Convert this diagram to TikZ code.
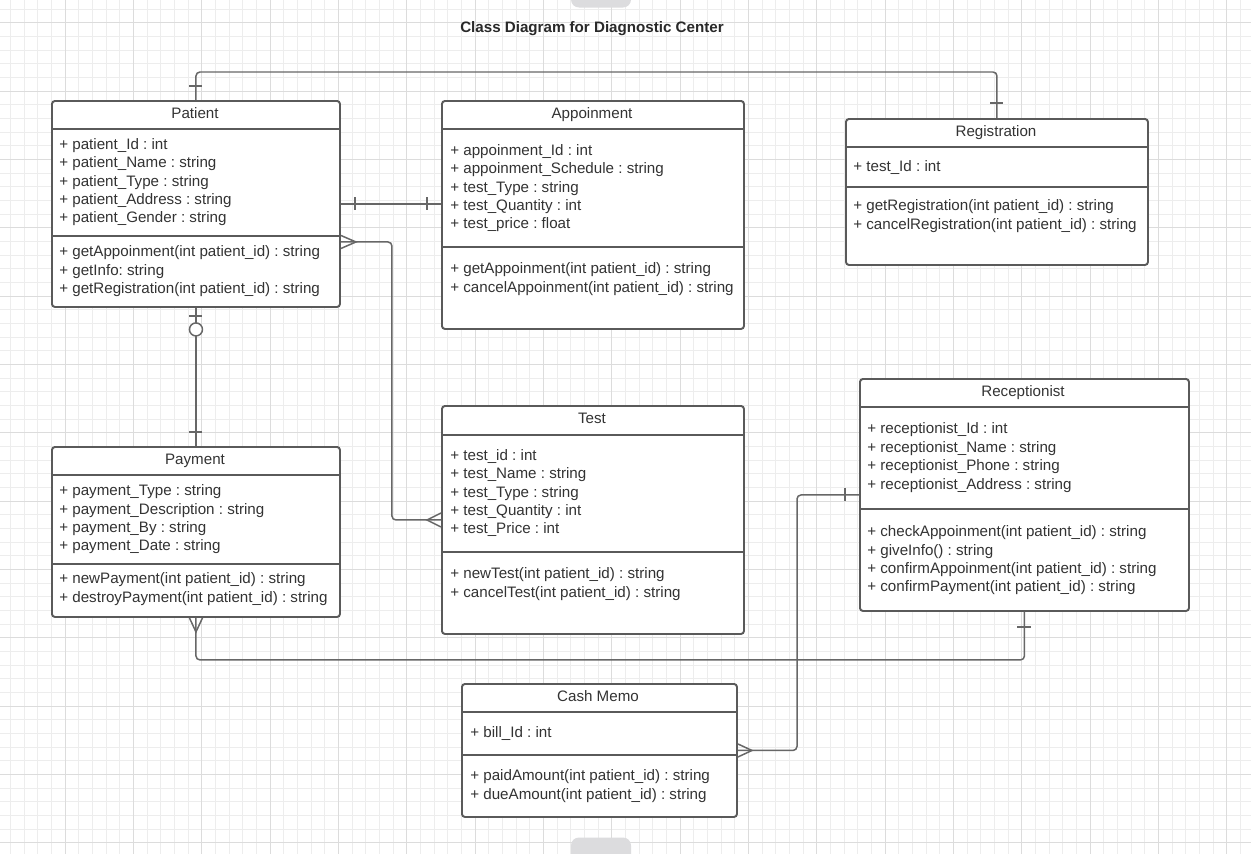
\documentclass[tikz,border=0pt]{standalone}
\usepackage{fontspec}
\setmainfont{Liberation Sans}
\frenchspacing
\usetikzlibrary{calc}

\definecolor{gridminor}{HTML}{EDEDED}
\definecolor{gridmajor}{HTML}{DCDCDC}
\definecolor{boxgray}{HTML}{5A5A5A}
\definecolor{linegray}{HTML}{676767}
\definecolor{textgray}{HTML}{333333}
\definecolor{handlegray}{HTML}{DCDCDE}

\tikzset{
  classbox/.style={draw=boxgray, line width=1.1pt, rounded corners=0.6mm, anchor=north west, inner sep=0pt, fill=white},
  divider/.style={draw=boxgray, line width=1.1pt},
  member/.style={anchor=west, inner sep=0pt, text=textgray, font=\fontsize{8.62}{10}\selectfont, text height=0.84em, text depth=0.2em},
  classname/.style={member, anchor=center},
  conn/.style={draw=linegray, line width=0.85pt, rounded corners=0.8mm},
  crowfoot/.style={draw=linegray, line width=0.85pt, line join=miter}
}

\begin{document}
\begin{tikzpicture}[x=0.2mm,y=-0.2mm]
\useasboundingbox (0,0) rectangle (1251,854);
\fill[white] (0,0) rectangle (1251,854);

%draw background grid
\foreach \i in {0,...,91}
  \draw[gridminor, line width=0.45pt] ({10.33+13.667*\i},0) -- ++(0,854);
\foreach \j in {0,...,62}
  \draw[gridminor, line width=0.45pt] (0,{9+13.667*\j}) -- ++(1251,0);
\foreach \k in {0,...,17}
  \draw[gridmajor, line width=0.55pt] ({65+68.333*\k},0) -- ++(0,854);
\foreach \k in {0,...,12}
  \draw[gridmajor, line width=0.55pt] (0,{22.7+68.333*\k}) -- ++(1251,0);

%page handles
\fill[handlegray, rounded corners=1.6mm] (571,-20) rectangle (631,7.5);
\fill[handlegray, rounded corners=1.6mm] (571,837.5) rectangle (631,874);

%label figure
\node[font=\bfseries\fontsize{8.62}{10}\selectfont, text=textgray!80!black] (title) at (592,29) {Class Diagram for Diagnostic Center};

%Patient
\node[classbox, minimum width=57.6mm, minimum height=41.2mm] (patient) at (51,100) {};
\draw[divider] (51,129) -- (339,129);
\draw[divider] (51,236) -- (339,236);
\node[classname] (patient-name) at (195,113) {Patient};
\foreach \t [count=\i from 0] in {{+ patient\_Id : int}, {+ patient\_Name : string}, {+ patient\_Type : string}, {+ patient\_Address : string}, {+ patient\_Gender : string}}
  \node[member] (patient-a\i) at (59,{144+18.3*\i}) {\t};
\foreach \t [count=\i from 0] in {{+ getAppoinment(int patient\_id) : string}, {+ getInfo: string}, {+ getRegistration(int patient\_id) : string}}
  \node[member] (patient-m\i) at (59,{251+18.4*\i}) {\t};

%Appoinment
\node[classbox, minimum width=60.4mm, minimum height=45.6mm] (appoinment) at (441,100) {};
\draw[divider] (441,129) -- (743,129);
\draw[divider] (441,247) -- (743,247);
\node[classname] (appoinment-name) at (592,113) {Appoinment};
\foreach \t [count=\i from 0] in {{+ appoinment\_Id : int}, {+ appoinment\_Schedule : string}, {+ test\_Type : string}, {+ test\_Quantity : int}, {+ test\_price : float}}
  \node[member] (appoinment-a\i) at (450,{150+18.3*\i}) {\t};
\foreach \t [count=\i from 0] in {{+ getAppoinment(int patient\_id) : string}, {+ cancelAppoinment(int patient\_id) : string}}
  \node[member] (appoinment-m\i) at (450,{268+18.4*\i}) {\t};

%Registration
\node[classbox, minimum width=60.4mm, minimum height=29.2mm] (registration) at (845,118) {};
\draw[divider] (845,147) -- (1147,147);
\draw[divider] (845,187) -- (1147,187);
\node[classname] (registration-name) at (996,131) {Registration};
\node[member] (registration-a0) at (853,166) {+ test\_Id : int};
\foreach \t [count=\i from 0] in {{+ getRegistration(int patient\_id) : string}, {+ cancelRegistration(int patient\_id) : string}}
  \node[member] (registration-m\i) at (853,{205+18.6*\i}) {\t};

%Receptionist
\node[classbox, minimum width=65.8mm, minimum height=46.4mm] (receptionist) at (859,378) {};
\draw[divider] (859,407) -- (1188,407);
\draw[divider] (859,509) -- (1188,509);
\node[classname] (receptionist-name) at (1023,391) {Receptionist};
\foreach \t [count=\i from 0] in {{+ receptionist\_Id : int}, {+ receptionist\_Name : string}, {+ receptionist\_Phone : string}, {+ receptionist\_Address : string}}
  \node[member] (receptionist-a\i) at (867,{428+18.6*\i}) {\t};
\foreach \t [count=\i from 0] in {{+ checkAppoinment(int patient\_id) : string}, {+ giveInfo() : string}, {+ confirmAppoinment(int patient\_id) : string}, {+ confirmPayment(int patient\_id) : string}}
  \node[member] (receptionist-m\i) at (867,{531+18.4*\i}) {\t};

%Test
\node[classbox, minimum width=60.4mm, minimum height=45.6mm] (test) at (441,405) {};
\draw[divider] (441,435) -- (743,435);
\draw[divider] (441,552) -- (743,552);
\node[classname] (test-name) at (592,418) {Test};
\foreach \t [count=\i from 0] in {{+ test\_id : int}, {+ test\_Name : string}, {+ test\_Type : string}, {+ test\_Quantity : int}, {+ test\_Price : int}}
  \node[member] (test-a\i) at (450,{455+18.3*\i}) {\t};
\foreach \t [count=\i from 0] in {{+ newTest(int patient\_id) : string}, {+ cancelTest(int patient\_id) : string}}
  \node[member] (test-m\i) at (450,{573+18.4*\i}) {\t};

%Payment
\node[classbox, minimum width=57.6mm, minimum height=34mm] (payment) at (51,446) {};
\draw[divider] (51,475) -- (339,475);
\draw[divider] (51,564) -- (339,564);
\node[classname] (payment-name) at (195,459) {Payment};
\foreach \t [count=\i from 0] in {{+ payment\_Type : string}, {+ payment\_Description : string}, {+ payment\_By : string}, {+ payment\_Date : string}}
  \node[member] (payment-a\i) at (59,{490+18.4*\i}) {\t};
\foreach \t [count=\i from 0] in {{+ newPayment(int patient\_id) : string}, {+ destroyPayment(int patient\_id) : string}}
  \node[member] (payment-m\i) at (59,{578+18.6*\i}) {\t};

%Cash Memo
\node[classbox, minimum width=55mm, minimum height=26.6mm] (cashmemo) at (461,683) {};
\draw[divider] (461,712) -- (736,712);
\draw[divider] (461,755) -- (736,755);
\node[classname] (cashmemo-name) at (598,696) {Cash Memo};
\node[member] (cashmemo-a0) at (470,732) {+ bill\_Id : int};
\foreach \t [count=\i from 0] in {{+ paidAmount(int patient\_id) : string}, {+ dueAmount(int patient\_id) : string}}
  \node[member] (cashmemo-m\i) at (470,{775+18.4*\i}) {\t};

%patient - registration
\draw[conn] (patient.north) -- ++(0,-28) -| (registration.north);
\draw[conn] ($(patient.north)+(-6.5,-14)$) -- ++(13,0);
\draw[conn] ($(registration.north)+(-6.5,-15)$) -- ++(13,0);

%patient - appoinment
\draw[conn] (patient.east) -- (patient.east -| appoinment.west);
\draw[conn] ($(patient.east)+(14,-6.5)$) -- ++(0,13);
\draw[conn] ($(patient.east -| appoinment.west)+(-14,-6.5)$) -- ++(0,13);

%patient - test
\coordinate (patientmany) at ($(patient.east)+(0,38)$);
\draw[conn] (patientmany) -- ++(51,0) |- (test.west);
\draw[crowfoot] ($(patientmany)+(0,-6.5)$) -- ++(15,6.5) -- ++(-15,6.5);
\draw[crowfoot] ($(test.west)+(0,-7)$) -- ++(-14,7) -- ++(14,7);

%patient - payment
\draw[conn] (patient.south) -- (payment.north);
\draw[conn] ($(patient.south)+(-6.5,8)$) -- ++(13,0);
\draw[conn, fill=white] ($(patient.south)+(0,21.5)$) circle[radius=1.3mm];
\draw[conn] ($(payment.north)+(-6.5,-14)$) -- ++(13,0);

%payment - receptionist
\draw[conn] (payment.south) -- ++(0,42) -| (receptionist.south);
\draw[crowfoot] ($(payment.south)+(-6.5,0)$) -- ++(6.5,14) -- ++(6.5,-14);
\draw[conn] ($(receptionist.south)+(-7,15)$) -- ++(14,0);

%receptionist - cash memo
\draw[conn] (receptionist.west) -- ++(-62,0) |- (cashmemo.east);
\draw[conn] ($(receptionist.west)+(-14,-6.5)$) -- ++(0,13);
\draw[crowfoot] ($(cashmemo.east)+(0,-6.5)$) -- ++(14,6.5) -- ++(-14,6.5);

\end{tikzpicture}
\end{document}
